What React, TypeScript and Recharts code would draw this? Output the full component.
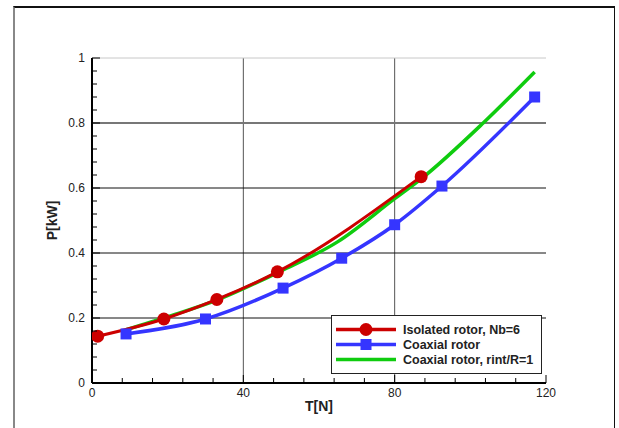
import React from 'react';
import { LineChart, Line, XAxis, YAxis, ReferenceLine, Legend } from 'recharts';

const isoT = [1.5, 19, 33, 49, 87];
const isoP = [0.144, 0.197, 0.257, 0.342, 0.635];

const coaxT = [9, 30, 50.5, 66, 80, 92.5, 117];
const coaxP = [0.151, 0.197, 0.292, 0.384, 0.487, 0.606, 0.88];

const rintT = [9, 20, 33, 50, 65, 80, 87, 103.4, 117];
const rintP = [0.164, 0.204, 0.255, 0.345, 0.435, 0.567, 0.628, 0.8, 0.957];

const xMajor = [0, 40, 80, 120];
const xTicks = [0, 8, 16, 24, 32, 40, 48, 56, 64, 72, 80, 88, 96, 104, 112, 120];
const yMajor = [0, 0.2, 0.4, 0.6, 0.8, 1];
const yTicks = [0, 0.04, 0.08, 0.12, 0.16, 0.2, 0.24, 0.28, 0.32, 0.36, 0.4, 0.44, 0.48, 0.52, 0.56, 0.6, 0.64, 0.68, 0.72, 0.76, 0.8, 0.84, 0.88, 0.92, 0.96, 1];

const seriesNames = ['Isolated rotor, Nb=6', 'Coaxial rotor', 'Coaxial rotor, rint/R=1'];
const RED = '#cc0000';
const BLUE = '#3535ff';
const GREEN = '#0fcc0f';

const isoData = isoT.map((t, i) => ({ t, p: isoP[i] }));
const coaxData = coaxT.map((t, i) => ({ t, p: coaxP[i] }));
const rintData = rintT.map((t, i) => ({ t, p: rintP[i] }));

const FONT = '"Liberation Sans", Arial, sans-serif';

const isMajor = (arr: number[], v: number) => arr.some((m) => Math.abs(m - v) < 1e-9);

const XTick = (props: any) => {
  const { x, y, payload } = props;
  const v = payload.value;
  const major = isMajor(xMajor, v);
  return (
    <g>
      <line x1={x} y1={y} x2={x} y2={y - (major ? 8 : 5)} stroke="#000" strokeWidth={1} />
      {major && (
        <text x={x} y={y + 14} textAnchor="middle" fontSize={12} fill="#222" fontFamily={FONT}>
          {v}
        </text>
      )}
    </g>
  );
};

const YTick = (props: any) => {
  const { x, y, payload } = props;
  const v = payload.value;
  const major = isMajor(yMajor, v);
  return (
    <g>
      <line x1={x} y1={y} x2={x + (major ? 8 : 5)} y2={y} stroke="#000" strokeWidth={1} />
      {major && (
        <text x={x - 7} y={y + 4} textAnchor="end" fontSize={12} fill="#222" fontFamily={FONT}>
          {String(v)}
        </text>
      )}
    </g>
  );
};

const CircleDot = (props: any) => {
  const { cx, cy } = props;
  if (cx == null || cy == null) return null;
  return <circle cx={cx} cy={cy} r={6.5} fill={RED} stroke="none" />;
};

const SquareDot = (props: any) => {
  const { cx, cy } = props;
  if (cx == null || cy == null) return null;
  return <rect x={cx - 5.5} y={cy - 5.5} width={11} height={11} fill={BLUE} stroke="none" />;
};

const LegendContent = () => {
  const colors = [RED, BLUE, GREEN];
  return (
    <div
      style={{
        border: '1.5px solid #222',
        background: '#fff',
        width: 211,
        height: 59,
        boxSizing: 'border-box',
        paddingTop: 6,
        fontFamily: FONT,
      }}
    >
      {seriesNames.map((name, i) => (
        <div key={name} style={{ display: 'flex', alignItems: 'center', height: 15 }}>
          <svg width={71} height={15} style={{ flex: 'none' }}>
            <line x1={4} y1={7.5} x2={64} y2={7.5} stroke={colors[i]} strokeWidth={3.5} />
            {i === 0 && <circle cx={34} cy={7.5} r={6.5} fill={RED} />}
            {i === 1 && <rect x={28.5} y={2} width={11} height={11} fill={BLUE} />}
          </svg>
          <span style={{ fontWeight: 'bold', fontSize: 12.5, color: '#222', whiteSpace: 'nowrap' }}>{name}</span>
        </div>
      ))}
    </div>
  );
};

export default function App() {
  return (
    <div style={{ position: 'absolute', left: 0, top: 0, width: 619, height: 428, background: '#fff', overflow: 'hidden' }}>
      <div
        style={{
          position: 'absolute',
          left: 13,
          top: 6,
          width: 602,
          height: 440,
          borderLeft: '2px solid #888',
          borderTop: '2px solid #111',
          borderRight: '1px solid #111',
          boxSizing: 'border-box',
        }}
      />
      <div style={{ position: 'absolute', left: 0, top: 0 }}>
        <LineChart width={619} height={428} margin={{ top: 58, right: 73, bottom: 44, left: 91 }}>
          <XAxis
            type="number"
            dataKey="t"
            domain={[0, 120]}
            ticks={xTicks}
            interval={0}
            height={1}
            tickSize={0}
            tickMargin={0}
            tickLine={false}
            axisLine={{ stroke: '#000', strokeWidth: 2 }}
            tick={<XTick />}
            allowDataOverflow
            label={{
              content: (p: any) => (
                <text
                  x={p.viewBox.x + p.viewBox.width / 2}
                  y={p.viewBox.y + 28}
                  textAnchor="middle"
                  fontSize={14}
                  fontWeight="bold"
                  fill="#222"
                  fontFamily={FONT}
                >
                  T[N]
                </text>
              ),
            }}
          />
          <YAxis
            type="number"
            dataKey="p"
            domain={[0, 1]}
            ticks={yTicks}
            interval={0}
            width={1}
            tickSize={0}
            tickMargin={0}
            tickLine={false}
            axisLine={{ stroke: '#000', strokeWidth: 2 }}
            tick={<YTick />}
            allowDataOverflow
            label={{
              content: (p: any) => {
                const cx = p.viewBox.x - 39;
                const cy = p.viewBox.y + p.viewBox.height / 2;
                return (
                  <text
                    x={cx}
                    y={cy}
                    transform={`rotate(-90 ${cx} ${cy})`}
                    textAnchor="middle"
                    dominantBaseline="central"
                    fontSize={14}
                    fontWeight="bold"
                    fill="#222"
                    fontFamily={FONT}
                  >
                    P[kW]
                  </text>
                );
              },
            }}
          />
          <ReferenceLine x={40} stroke="#555" strokeWidth={1} />
          <ReferenceLine x={80} stroke="#555" strokeWidth={1} />
          <ReferenceLine y={0.2} stroke="#111" strokeWidth={1} />
          <ReferenceLine y={0.4} stroke="#111" strokeWidth={1} />
          <ReferenceLine y={0.6} stroke="#111" strokeWidth={1} />
          <ReferenceLine y={0.8} stroke="#777" strokeWidth={2} />
          <ReferenceLine y={1} stroke="#c8c8c8" strokeWidth={1} />
          <Line
            data={rintData}
            dataKey="p"
            name={seriesNames[2]}
            type="monotone"
            stroke={GREEN}
            strokeWidth={3.5}
            dot={false}
            activeDot={false}
            isAnimationActive={false}
          />
          <Line
            data={coaxData}
            dataKey="p"
            name={seriesNames[1]}
            type="monotone"
            stroke={BLUE}
            strokeWidth={3.5}
            dot={<SquareDot />}
            activeDot={false}
            isAnimationActive={false}
          />
          <Line
            data={isoData}
            dataKey="p"
            name={seriesNames[0]}
            type="monotone"
            stroke={RED}
            strokeWidth={3}
            dot={<CircleDot />}
            activeDot={false}
            isAnimationActive={false}
          />
          <Legend
            layout="vertical"
            align="center"
            verticalAlign="middle"
            content={<LegendContent />}
            wrapperStyle={{ position: 'absolute', left: 331, top: 315, width: 211, height: 59, margin: 0 }}
          />
        </LineChart>
      </div>
    </div>
  );
}
